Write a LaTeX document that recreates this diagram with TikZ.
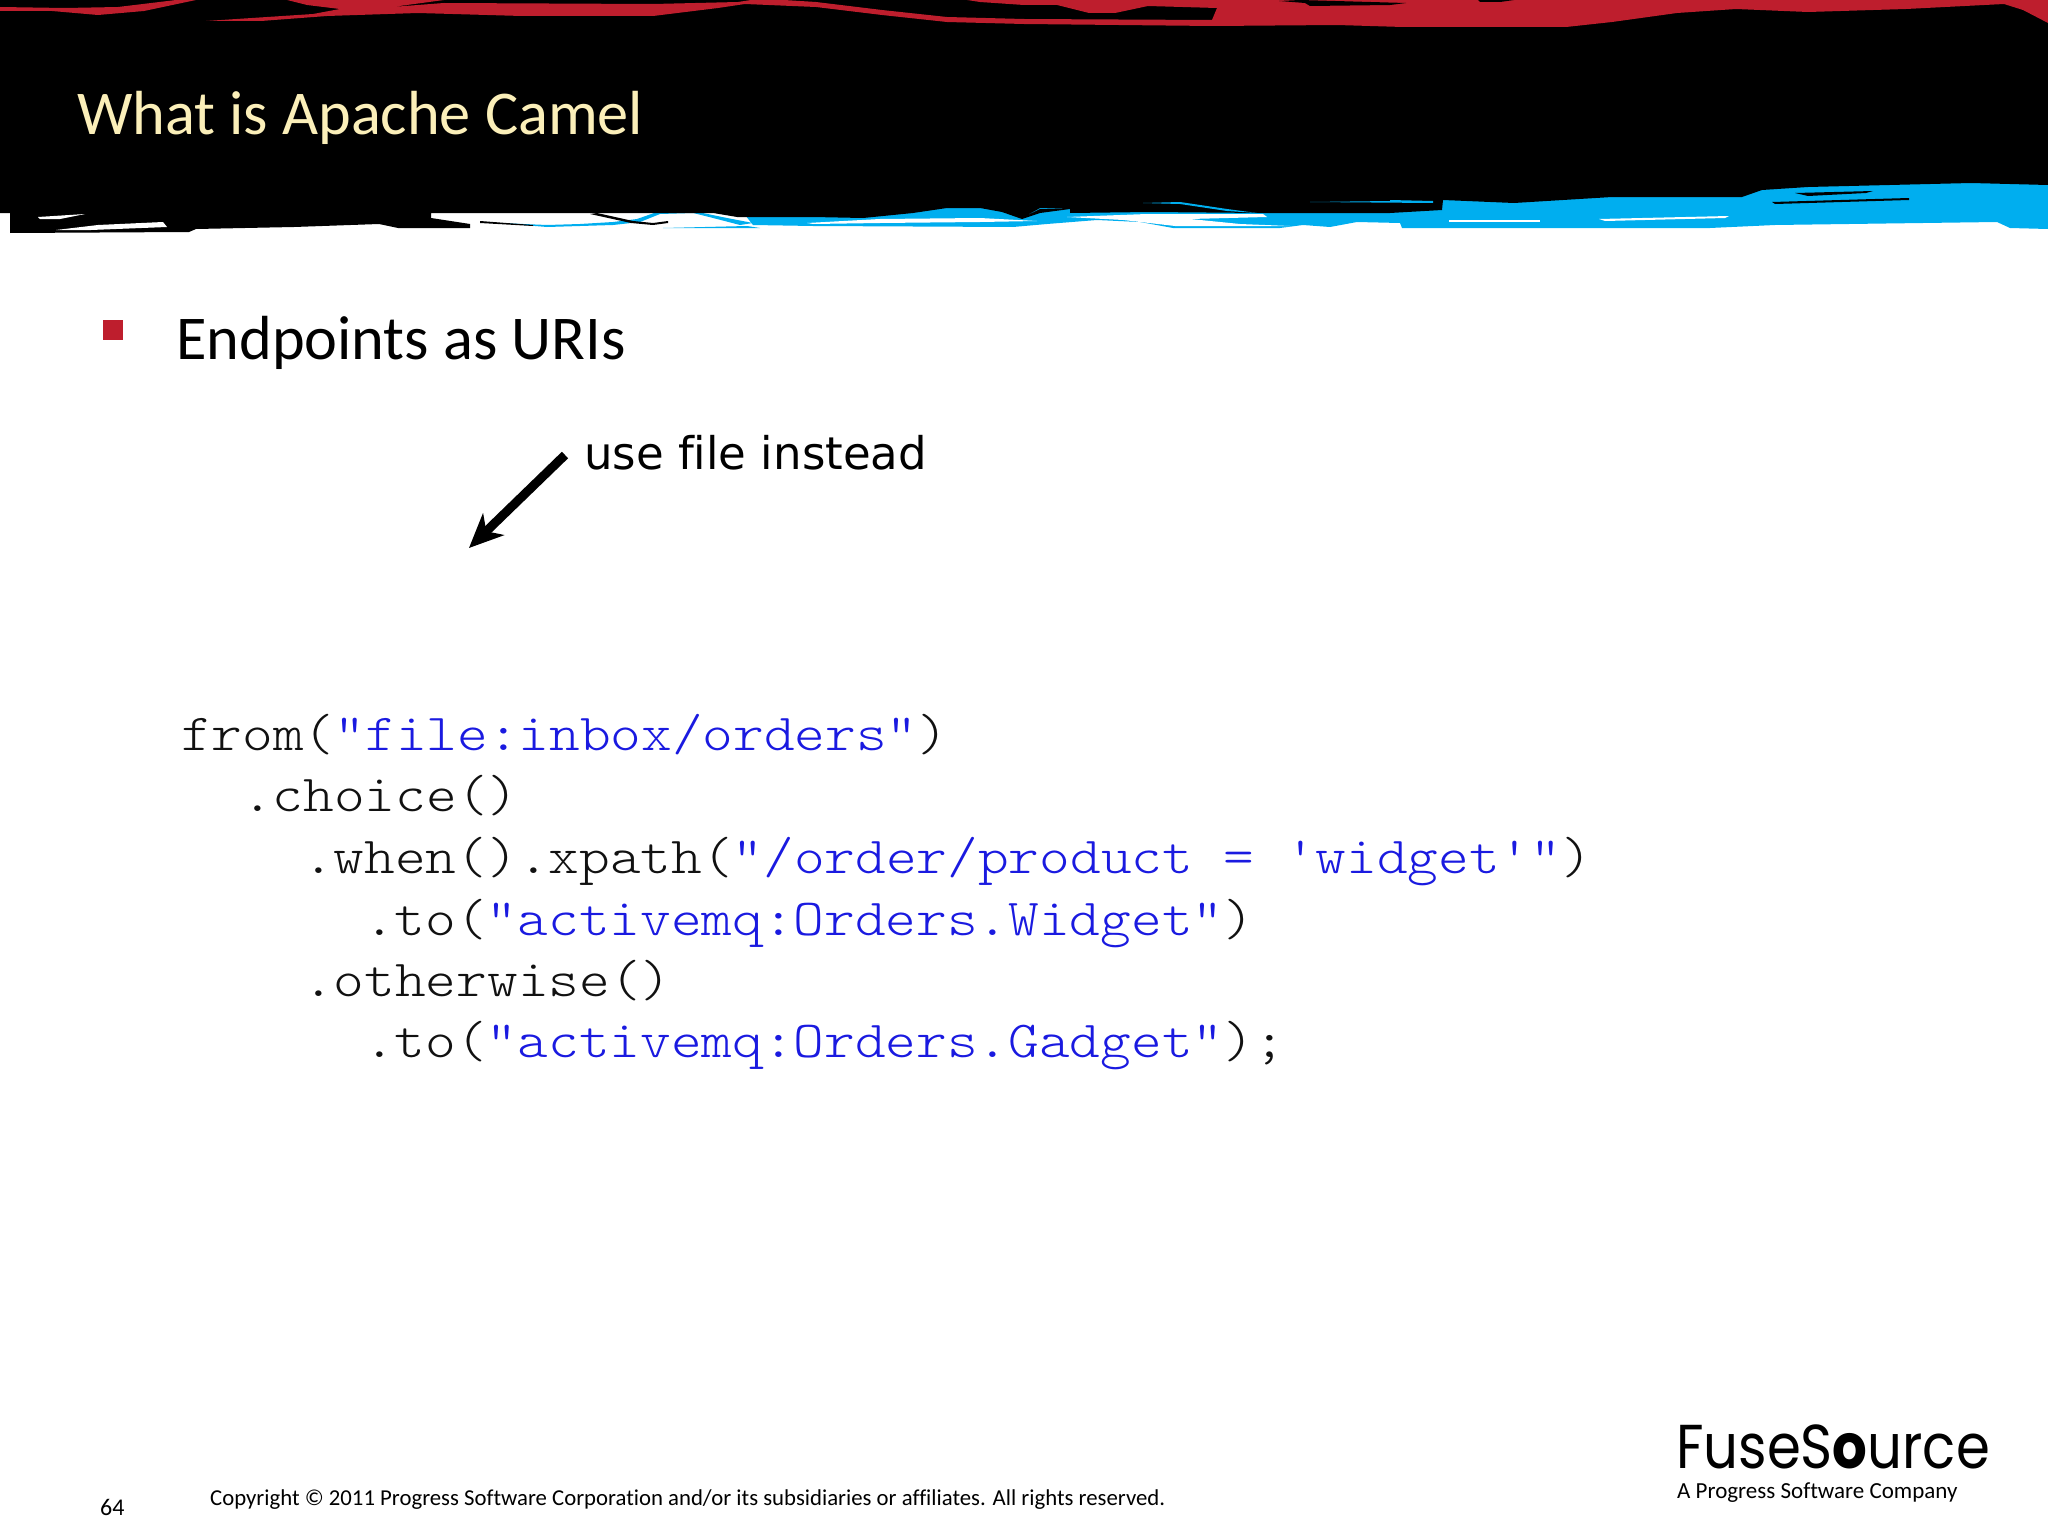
\documentclass[tikz,border=0pt]{standalone}
\usepackage{fontspec}
\setmainfont[Ligatures=NoCommon]{Carlito}
\setmonofont{Latin Modern Mono Light}
\newfontfamily\notefont[Ligatures=NoCommon]{DejaVu Sans}
\newfontfamily\logofont{Poppins}
\usetikzlibrary{arrows.meta}
\definecolor{brushred}{HTML}{BE1E2D}
\definecolor{brushblue}{HTML}{00AEEF}
\definecolor{titlecream}{HTML}{FBEFB9}
\definecolor{codeblue}{HTML}{1A1AE0}
\definecolor{codegray}{HTML}{111111}
\newcommand{\strtxt}[1]{\textcolor{codeblue}{#1}}
\tikzset{
  txt/.style={inner sep=0pt, anchor=base west},
  codeline/.style={txt, text=codegray, xscale=1.124, transform shape, font=\fontsize{52}{54}\selectfont\ttfamily},
}
\begin{document}
\begin{tikzpicture}[x=1pt,y=-1pt]
  \useasboundingbox (0,0) rectangle (2048,1536);
  % brush strokes of the header
  \fill[brushblue] (737,205) -- (2048,180) -- (2048,229) -- (2010,228) -- (1997,222) -- (1775,225) -- (1710,228)
    -- (1402,228) -- (1400,223) -- (1357,222) -- (1330,227) -- (1303,225) -- (1280,228) -- (1173,228) -- (1140,222)
    -- (1097,220) -- (1047,224) -- (1013,227) -- (813,226) -- (753,225) -- cycle;
  \fill[brushblue] (500,223) -- (547,225) -- (580,224) -- (613,222) -- (637,219) -- (657,212) -- (693,211) -- (727,218)
    -- (753,223) -- (740,225) -- (713,218) -- (693,213) -- (660,214) -- (640,222) -- (613,225) -- (547,227) -- cycle;
  \fill[brushblue] (663,228) -- (747,226) -- (760,228) -- cycle;
  \fill[white] (807,223) -- (880,219) -- (980,218) -- (1037,221) -- (980,222) -- (880,223) -- (813,224) -- cycle;
  \fill[white] (1067,217) -- (1147,214) -- (1263,214) -- (1267,217) -- (1190,219) -- (1240,224) -- (1290,226)
    -- (1175,226) -- (1123,220) -- cycle;
  \fill[white] (1449,220) -- (1540,220) -- (1540,222) -- (1449,222) -- cycle;
  \fill[white] (1599,219) -- (1729,216) -- (1725,218) -- (1605,221) -- cycle;
  \fill[black] (0,0) -- (2048,0) -- (2048,185) -- (1971,183) -- (1808,187) -- (1762,190) -- (1742,197) -- (1612,197)
    -- (1514,203) -- (1443,200) -- (1442,210) -- (1390,213) -- (1263,213) -- (1150,212) -- (1070,213) -- (1070,209)
    -- (1040,208) -- (1022,218) -- (1040,209) -- (1070,209) -- (1040,213) -- (1022,219) -- (1002,212) -- (980,208)
    -- (947,208) -- (913,213) -- (863,218) -- (813,217) -- (737,217) -- (713,213)
    -- (431,213) -- (431,218) -- (470,224) -- (470,228) -- (398,228) -- (379,224) -- (294,227) -- (196,229)
    -- (189,232) -- (10,233) -- (10,213) -- (0,213) -- cycle;
  \fill[brushblue] (1143,203) -- (1180,202) -- (1227,209) -- (1257,213) -- (1227,211) -- (1180,204) -- cycle;
  \fill[brushblue] (1390,200) -- (1433,201) -- (1433,203) -- (1310,202) -- (1390,201) -- cycle;
  \fill[black] (1772,202) -- (1909,198) -- (1909,200) -- (1775,204) -- cycle;
  \fill[black] (1795,193) -- (1873,191) -- (1866,193) -- (1808,196) -- cycle;
  \fill[black] (597,213) -- (633,221) -- (653,223) -- (668,221) -- (668,223) -- (653,225) -- (631,223) -- (590,214) -- cycle;
  \fill[black] (480,221) -- (533,225) -- (533,226) -- (480,223) -- cycle;
  \fill[white] (56,230) -- (98,225) -- (163,222) -- (167,227) -- (91,230) -- cycle;
  \fill[white] (38,217) -- (85,214) -- (60,219) -- (40,219) -- cycle;
  \fill[brushred] (0,7) -- (65,8) -- (118,7) -- (176,0) -- (196,0) -- (144,11) -- (98,15) -- (52,11) -- (0,11) -- cycle;
  \fill[brushred] (287,0) -- (307,5) -- (340,9) -- (313,14) -- (206,21) -- (261,21) -- (327,16) -- (418,13) -- (522,16)
    -- (653,16) -- (718,8) -- (745,4) -- (816,7) -- (882,15) -- (947,22) -- (1024,24) -- (1213,26) -- (1337,25)
    -- (1403,27) -- (1566,27) -- (1612,22) -- (1677,13) -- (1736,9) -- (1808,12) -- (1906,9) -- (2004,4) -- (2023,10)
    -- (2048,23) -- (2048,0) -- (967,0) -- (980,2) -- (1024,5) -- (1057,5) -- (1089,13) -- (1115,13) -- (1148,6)
    -- (1217,8) -- (1212,20) -- (1024,19) -- (947,17) -- (882,10) -- (816,2) -- (784,0) -- (751,0) -- (738,2)
    -- (653,4) -- (444,3) -- (392,7) -- (444,0) -- cycle;
  \fill[black] (1279,1) -- (1300,0) -- (1406,3) -- (1390,5) -- (1310,6) -- (1305,3) -- cycle;
  \fill[black] (1478,0) -- (1514,0) -- (1500,2) -- (1480,2) -- cycle;
  % texts
  \node[txt, text=titlecream, font=\fontsize{62.3}{62}\selectfont] (title) at (77,135) {What is Apache Camel};
  \node[fill=brushred, minimum size=20pt, inner sep=0pt, anchor=north west] (bullet) at (103,320) {};
  \node[txt, font=\fontsize{62.3}{62}\selectfont] (head) at (176,359) {Endpoints as URIs};
  \node[txt, font=\fontsize{45}{45}\selectfont\notefont] (note) at (584,469) {use file instead};
  \coordinate (from) at (565,455);
  \coordinate (tip) at (469,548);
  \draw[-{Stealth[length=34pt,width=30pt,inset=10pt]}, line width=9pt] (from) -- (tip);
  % code
  \node[codeline] (l1) at (181,750) {from(\strtxt{"file:inbox/orders"})};
  \node[codeline] (l2) at (242,811.5) {.choice()};
  \node[codeline] (l3) at (303,873) {.when().xpath(\strtxt{"/order/product = 'widget'"})};
  \node[codeline] (l4) at (364,935) {.to(\strtxt{"activemq:Orders.Widget"})};
  \node[codeline] (l5) at (303,996) {.otherwise()};
  \node[codeline] (l6) at (364,1057) {.to(\strtxt{"activemq:Orders.Gadget"});};
  % footer
  \node[txt, font=\fontsize{24}{24}\selectfont] (page) at (100,1515) {64};
  \node[txt, font=\fontsize{22.75}{23}\selectfont] (copy) at (210,1505) {Copyright © 2011 Progress Software Corporation and/or its subsidiaries or affiliates. All rights reserved.};
  \node[txt, xscale=.88, transform shape, font=\fontsize{62}{62}\selectfont\logofont] (logo) at (1676,1468) {FuseS{\bfseries o}urce};
  \node[txt, font=\fontsize{23}{23}\selectfont] (company) at (1677,1498) {A Progress Software Company};
\end{tikzpicture}
\end{document}
